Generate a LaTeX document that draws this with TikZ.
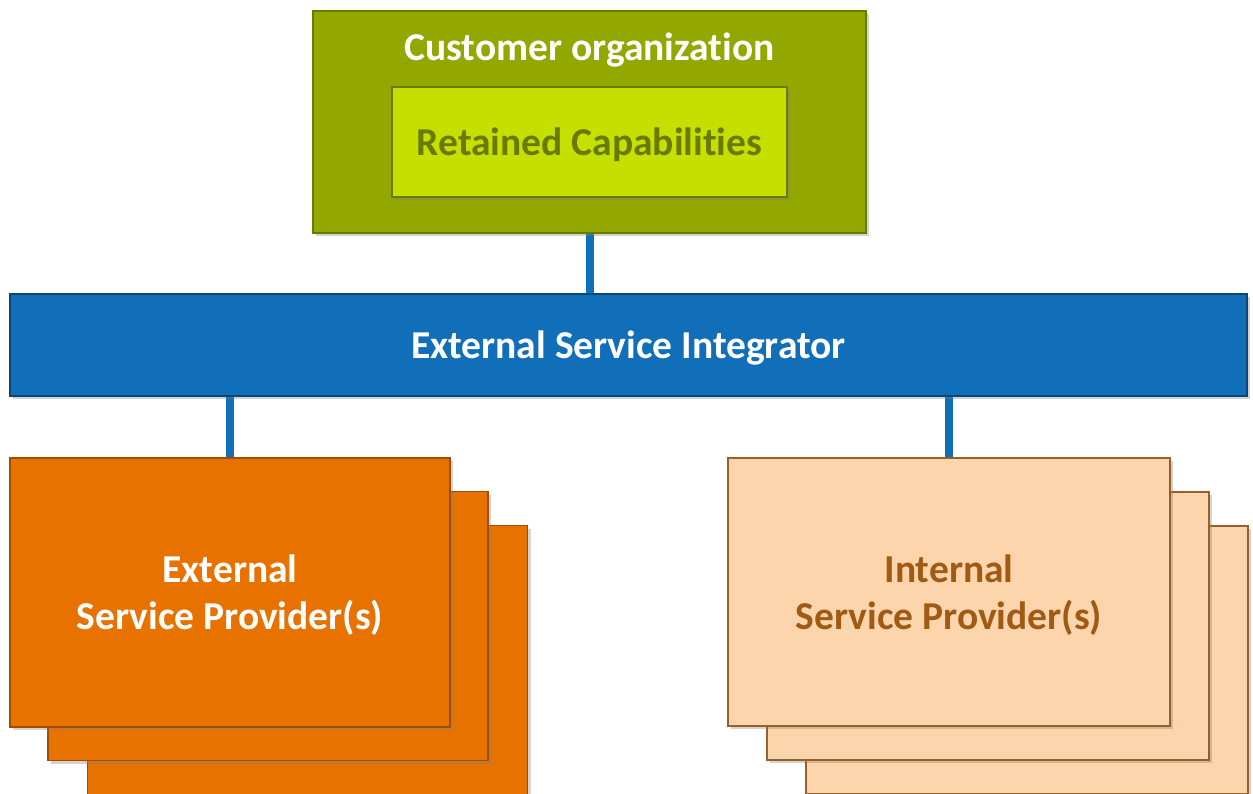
\documentclass[tikz,border=0pt]{standalone}
\usepackage{fontspec}
\setmainfont{Carlito}[Ligatures={NoCommon}]
\usetikzlibrary{shadows,backgrounds}
\definecolor{custgreen}{RGB}{146,168,0}
\definecolor{custborder}{RGB}{105,122,0}
\definecolor{retgreen}{RGB}{197,224,0}
\definecolor{rettext}{RGB}{104,122,0}
\definecolor{barblue}{RGB}{17,111,186}
\definecolor{barborder}{RGB}{10,70,120}
\definecolor{orangefill}{RGB}{232,114,0}
\definecolor{orangeborder}{RGB}{160,78,0}
\definecolor{peachfill}{RGB}{252,213,172}
\definecolor{peachborder}{RGB}{150,96,40}
\definecolor{peachtext}{RGB}{160,90,20}
\tikzset{
  box/.style={rectangle, draw, line width=1.6pt, inner sep=0pt,
    drop shadow={shadow xshift=3pt, shadow yshift=-3pt, opacity=0.35}},
  lbl/.style={font=\fontsize{39.5}{47}\selectfont\bfseries, align=center},
  txt/.style={lbl, yshift=-3pt},
  conn/.style={draw=barblue, line width=8pt},
  extbox/.style={box, fill=orangefill, draw=orangeborder, minimum width=440pt, minimum height=269pt},
  intbox/.style={box, fill=peachfill, draw=peachborder, minimum width=442pt, minimum height=268pt},
}
\begin{document}
\begin{tikzpicture}[x=1pt,y=-1pt]
\useasboundingbox (0,0) rectangle (1253,794);
% customer organization
\node[box, fill=custgreen, draw=custborder, minimum width=553pt, minimum height=222pt] (cust) at (589.5,122) {};
\node[txt, text=white] (custlbl) at (589.5,47) {Customer organization};
\node[box, fill=retgreen, draw=custborder, minimum width=395pt, minimum height=110pt] (ret) at (589.5,142) {};
\node[txt, text=rettext] (retlbl) at (ret.center) {Retained Capabilities};
% integrator bar
\node[box, fill=barblue, draw=barborder, minimum width=1237pt, minimum height=102pt] (bar) at (628.5,345) {};
\node[txt, text=white] (barlbl) at (bar.center) {External Service Integrator};
% external stack
\node[extbox] (ext3) at (307.5,660) {};
\node[extbox] (ext2) at (268,626) {};
\node[extbox] (ext) at (230,592.5) {};
\node[txt, text=white] (extlbl) at (ext.center) {External\\Service Provider(s)};
% internal stack
\node[intbox] (int3) at (1027,660) {};
\node[intbox] (int2) at (988,626) {};
\node[intbox] (int) at (949,592) {};
\node[txt, text=peachtext] (intlbl) at (int.center) {Internal\\Service Provider(s)};
% connectors
\begin{scope}[on background layer]
\draw[conn] (cust.south) -- (cust.south |- bar.north);
\draw[conn] (ext.north |- bar.south) -- (ext.north);
\draw[conn] (int.north |- bar.south) -- (int.north);
\end{scope}
\end{tikzpicture}
\end{document}
